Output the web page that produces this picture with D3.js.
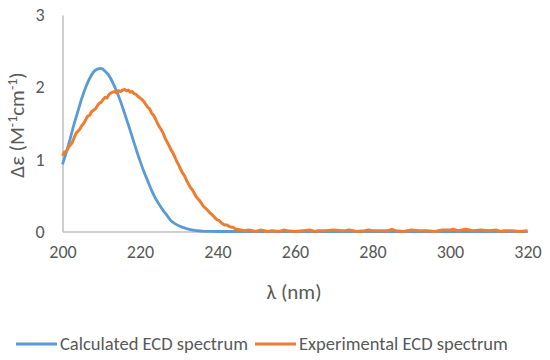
<!DOCTYPE html>
<html><head><meta charset="utf-8">
<script src="https://cdn.jsdelivr.net/npm/d3@7"></script>
<style>body{margin:0;background:#fff}</style>
</head><body><svg id="c" width="550" height="360"></svg>
<script>
const xTicks = [200, 220, 240, 260, 280, 300, 320];
const yTicks = [0, 1, 2, 3];
const seriesNames = ["Calculated ECD spectrum", "Experimental ECD spectrum"];
const calcX = [200,201,202,203,204,205,206,207,208,209,210,211,212,213,214,215,216,217,218,219,220,221,222,223,224,225,226,227,228,229,230,232,234,236,238,240,250,260,280,300,320];
const calcY = [0.93,1.10,1.29,1.49,1.67,1.85,2.00,2.12,2.21,2.25,2.26,2.22,2.16,2.06,1.94,1.80,1.64,1.48,1.31,1.14,0.98,0.83,0.70,0.57,0.46,0.37,0.29,0.22,0.15,0.11,0.08,0.04,0.015,0.006,0.002,0,0,0,0,0,0];
const expX = [200,200.5,201,201.5,202,202.5,203,203.5,204,204.5,205,205.5,206,206.5,207,207.5,208,208.5,209,209.5,
  210,210.5,211,211.5,212,212.5,213,213.5,214,214.5,215,215.5,216,216.5,217,217.5,218,218.5,219,219.5,
  220,220.5,221,221.5,222,222.5,223,223.5,224,224.5,225,225.5,226,226.5,227,227.5,228,228.5,229,229.5,
  230,230.5,231,231.5,232,232.5,233,233.5,234,234.5,235,235.5,236,236.5,237,237.5,238,238.5,239,239.5,
  240,240.5,241,241.5,242,242.5,243,243.5,244,244.5,245,
  246,247,248,249,250,251,252,253,254,256,257,258,260,262,264,265,266,268,270,272,273,274,276,278,279,280,
  282,284,285,286,288,290,292,294,296,298,300,301,302,303,304,305,306,308,310,312,313,314,316,318,320];
const expY = [1.05,1.10,1.11,1.16,1.20,1.23,1.30,1.36,1.39,1.42,1.47,1.50,1.55,1.60,1.61,1.66,1.68,1.70,1.74,1.78,
  1.79,1.83,1.86,1.85,1.90,1.92,1.93,1.94,1.92,1.95,1.94,1.96,1.97,1.95,1.96,1.93,1.94,1.91,1.90,1.87,
  1.85,1.83,1.80,1.76,1.72,1.70,1.64,1.61,1.56,1.50,1.45,1.41,1.36,1.29,1.24,1.19,1.13,1.09,1.03,0.97,
  0.92,0.86,0.81,0.77,0.71,0.66,0.61,0.58,0.53,0.48,0.45,0.42,0.38,0.34,0.32,0.29,0.26,0.24,0.21,0.18,
  0.16,0.15,0.12,0.10,0.09,0.09,0.07,0.06,0.06,0.04,0.03,
  0.02,0.01,0.02,0.01,0.00,0.02,0.01,0.00,0.01,0.00,0.02,0.01,0.00,0.01,0.02,0.00,0.01,0.01,0.02,0.01,0.01,0.02,0.00,0.01,0.02,0.01,
  0.01,0.01,0.03,0.01,0.00,0.02,0.01,0.01,0.00,0.02,0.02,0.03,0.01,0.02,0.03,0.02,0.01,0.02,0.01,0.02,0.00,0.01,0.01,0.00,0.01];

const svg = d3.select("#c");
const font = "Calibri, Carlito, Lato, sans-serif";
const x = d3.scaleLinear().domain([200, 320]).range([62.5, 527.5]);
const y = d3.scaleLinear().domain([0, 3]).range([231.5, 15]);
const textCol = "#595959";
const axisCol = "#BFBFBF";

// axes
const xa = svg.append("g").attr("transform", "translate(0,231.5)")
  .call(d3.axisBottom(x).tickValues(xTicks).tickFormat(d3.format("d")).tickSize(0).tickPadding(14));
xa.select(".domain").attr("stroke", axisCol).attr("stroke-width", 1.5);
xa.selectAll("text").attr("fill", textCol).style("font-family", font).style("font-size", "18px");

const ya = svg.append("g").attr("transform", "translate(62.5,0)")
  .call(d3.axisLeft(y).tickValues(yTicks).tickFormat(d3.format("d")).tickSize(0).tickPadding(18));
ya.select(".domain").attr("stroke", axisCol).attr("stroke-width", 1.5);
ya.selectAll("text").attr("fill", textCol).style("font-family", font).style("font-size", "18px");

// lines
svg.append("path").datum(calcX.map((v, i) => [v, calcY[i]]))
  .attr("d", d3.line().x(d => x(d[0])).y(d => y(d[1])).curve(d3.curveMonotoneX)).attr("fill", "none")
  .attr("stroke", "#5B9BD5").attr("stroke-width", 2.8);
svg.append("path").datum(expX.map((v, i) => [v, expY[i]]))
  .attr("d", d3.line().x(d => x(d[0])).y(d => y(d[1]))).attr("fill", "none")
  .attr("stroke", "#ED7D31").attr("stroke-width", 3).attr("stroke-linejoin", "round");

// titles
svg.append("text").attr("x", 294).attr("y", 299).attr("text-anchor", "middle")
  .attr("fill", textCol).style("font-family", font).style("font-size", "21px").text("λ (nm)");
const yt = svg.append("text").attr("transform", "translate(24,125) rotate(-90)")
  .attr("text-anchor", "middle").attr("fill", textCol).style("font-family", font).style("font-size", "21px");
yt.append("tspan").text("Δε (M");
yt.append("tspan").attr("dy", -7).style("font-size", "14px").text("-1");
yt.append("tspan").attr("dy", 7).text("cm");
yt.append("tspan").attr("dy", -7).style("font-size", "14px").text("-1");
yt.append("tspan").attr("dy", 7).text(")");

// legend
const lg = [{x: 16, c: "#5B9BD5"}, {x: 255, c: "#ED7D31"}];
lg.forEach((l, i) => {
  svg.append("line").attr("x1", l.x).attr("x2", l.x + 41).attr("y1", 344).attr("y2", 344)
    .attr("stroke", l.c).attr("stroke-width", 2.8);
  svg.append("text").attr("x", l.x + 44).attr("y", 350).attr("fill", textCol)
    .style("font-family", font).style("font-size", "18.5px").text(seriesNames[i]);
});
</script></body></html>
